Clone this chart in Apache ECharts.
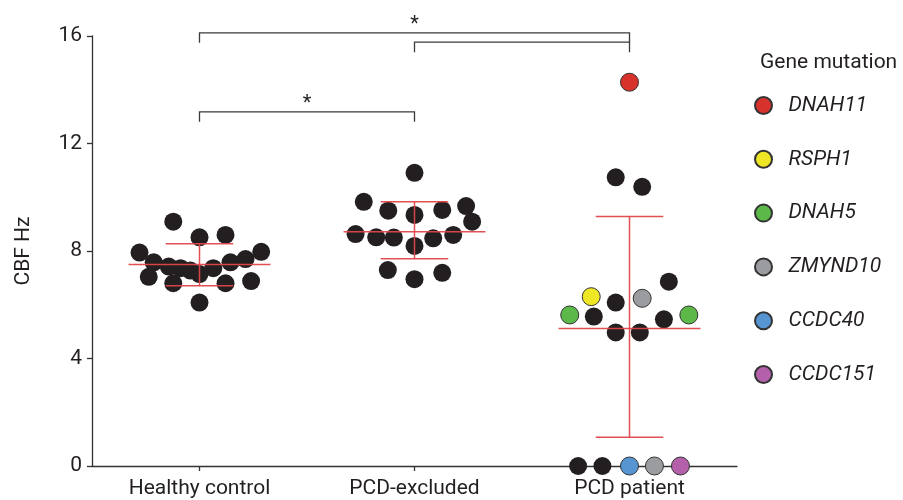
<!DOCTYPE html>
<html>
<head>
<meta charset="utf-8">
<script src="https://cdn.jsdelivr.net/npm/echarts@6/dist/echarts.min.js"></script>
<style>html,body{margin:0;padding:0;background:#fff}#c{width:903px;height:500px}</style>
</head>
<body>
<div id="c"></div>
<script>
// ---- data ----
var categories = ['Healthy control', 'PCD-excluded', 'PCD patient'];
var yTicks = [0, 4, 8, 12, 16];

// group position (1,2,3) + jitter offset within the group
var healthyValues  = [9.09, 8.51, 8.60, 7.94, 7.97, 7.58, 7.42, 7.36, 7.27, 7.14, 7.36, 7.58, 7.70, 7.04, 6.80, 6.80, 6.88, 6.08];
var healthyOffsets = [-0.122, 0, 0.121, -0.279, 0.287, -0.213, -0.143, -0.088, -0.042, 0, 0.064, 0.144, 0.214, -0.236, -0.122, 0.121, 0.240, 0];

var excludedValues  = [10.91, 9.83, 9.50, 9.34, 9.53, 9.67, 9.09, 8.63, 8.51, 8.50, 8.19, 8.47, 8.60, 7.29, 6.95, 7.19];
var excludedOffsets = [0, -0.236, -0.122, 0, 0.129, 0.240, 0.268, -0.274, -0.178, -0.096, 0, 0.087, 0.180, -0.124, 0, 0.129];

var patientBlackValues  = [10.74, 10.39, 6.86, 6.08, 5.56, 5.46, 4.97, 4.97, 0, 0];
var patientBlackOffsets = [-0.064, 0.059, 0.183, -0.064, -0.166, 0.160, -0.064, 0.048, -0.239, -0.126];

var genes = ['DNAH11', 'RSPH1', 'DNAH5', 'ZMYND10', 'CCDC40', 'CCDC151'];
var geneValues  = [[14.28], [6.30], [5.62, 5.62], [6.24, 0], [0], [0]];
var geneOffsets = [[0], [-0.178], [-0.278, 0.276], [0.059, 0.116], [0], [0.237]];

var means   = [7.50, 8.72, 5.12];
var sdUpper = [8.27, 9.83, 9.28];
var sdLower = [6.71, 7.71, 1.07];

// significance brackets: [from group, to group, level (CBF Hz), label]
var bracketFrom  = [1, 2, 1];
var bracketTo    = [3, 3, 2];
var bracketLevel = [16.12, 15.77, 13.18];
var bracketLabel = ['*', '', '*'];

// ---- styles ----
var geneColors = ['#d8322c', '#efe626', '#5cb848', '#9b9c9f', '#5795d2', '#b460aa'];
var dotColor = '#231f20';
var textColor = '#231f20';
var fontFamily = 'Roboto, "DejaVu Sans", sans-serif';
var fs = 21;

function pts(group, vals, offs) {
  return vals.map(function (v, i) { return [group + offs[i], v]; });
}

var series = [];
series.push({
  type: 'scatter', name: 'black', xAxisIndex: 1, yAxisIndex: 0,
  symbolSize: 18, itemStyle: { color: dotColor, opacity: 1 },
  data: pts(1, healthyValues, healthyOffsets)
    .concat(pts(2, excludedValues, excludedOffsets))
    .concat(pts(3, patientBlackValues, patientBlackOffsets)),
  z: 2, silent: true
});
genes.forEach(function (g, gi) {
  series.push({
    type: 'scatter', name: g, xAxisIndex: 1, yAxisIndex: 0,
    symbolSize: 18,
    itemStyle: { color: geneColors[gi], borderColor: '#333', borderWidth: 1, opacity: 1 },
    data: pts(3, geneValues[gi], geneOffsets[gi]),
    z: 3, silent: true
  });
});

// error bars (mean +/- SD)
series.push({
  type: 'custom', name: 'errbars', xAxisIndex: 1, yAxisIndex: 0, z: 5, silent: true,
  encode: { x: 0, y: 1 },
  data: categories.map(function (c, i) { return [i + 1, means[i], sdLower[i], sdUpper[i]]; }),
  renderItem: function (params, api) {
    var x = api.value(0), m = api.value(1), lo = api.value(2), hi = api.value(3);
    var mL = api.coord([x - 0.33, m]), mR = api.coord([x + 0.33, m]);
    var top = api.coord([x, hi]), bot = api.coord([x, lo]);
    var cw = 0.157 * (api.coord([1, 0])[0] - api.coord([0, 0])[0]);
    var st = { stroke: '#e2474b', lineWidth: 1.5, opacity: 0.95 };
    return { type: 'group', children: [
      { type: 'line', shape: { x1: mL[0], y1: mL[1], x2: mR[0], y2: mR[1] }, style: st },
      { type: 'line', shape: { x1: top[0], y1: top[1], x2: bot[0], y2: bot[1] }, style: st },
      { type: 'line', shape: { x1: top[0] - cw, y1: top[1], x2: top[0] + cw, y2: top[1] }, style: st },
      { type: 'line', shape: { x1: bot[0] - cw, y1: bot[1], x2: bot[0] + cw, y2: bot[1] }, style: st }
    ]};
  }
});

// significance brackets
series.push({
  type: 'custom', name: 'brackets', xAxisIndex: 1, yAxisIndex: 0, z: 6, silent: true, clip: false,
  encode: { x: 0, y: 2 },
  data: bracketFrom.map(function (f, i) { return [f, bracketTo[i], bracketLevel[i], i]; }),
  renderItem: function (params, api) {
    var a = api.coord([api.value(0), api.value(2)]);
    var b = api.coord([api.value(1), api.value(2)]);
    var lab = bracketLabel[api.value(3)];
    var st = { stroke: '#3a3a3a', lineWidth: 1.3, fill: null };
    var ch = [{ type: 'polyline', shape: { points: [[a[0], a[1] + 10], [a[0], a[1]], [b[0], b[1]], [b[0], b[1] + 10]] }, style: st }];
    if (lab) {
      ch.push({ type: 'text', x: (a[0] + b[0]) / 2, y: a[1] - 8,
        style: { text: lab, fill: textColor, font: '20px ' + fontFamily, align: 'center', verticalAlign: 'middle' } });
    }
    return { type: 'group', children: ch };
  }
});

var chart = echarts.init(document.getElementById('c'), null, { renderer: 'canvas' });
chart.setOption({
  animation: false,
  backgroundColor: '#ffffff',
  title: {
    text: 'Gene mutation', left: 755, top: 47,
    textStyle: { fontSize: fs, fontWeight: 'normal', color: textColor, fontFamily: fontFamily }
  },
  legend: {
    data: genes, orient: 'vertical', left: 749, top: 90,
    itemWidth: 40, itemHeight: 17, itemGap: 32.8, icon: 'circle',
    selectedMode: false,
    textStyle: { fontSize: fs, fontStyle: 'italic', color: textColor, fontFamily: fontFamily, lineHeight: 17 }
  },
  grid: { left: 92, right: 166, top: 36, bottom: 34, containLabel: false },
  xAxis: [
    {
      type: 'category', data: categories, boundaryGap: true,
      axisLine: { show: true, lineStyle: { color: '#333', width: 1.3 } },
      axisTick: { show: true, alignWithLabel: true, length: 5, lineStyle: { color: '#333', width: 1.3 } },
      axisLabel: { fontSize: fs, color: textColor, fontFamily: fontFamily, margin: 12 },
      splitLine: { show: false }
    },
    { type: 'value', min: 0.5, max: 3.5, show: false, splitLine: { show: false } }
  ],
  yAxis: {
    type: 'value', min: yTicks[0], max: yTicks[yTicks.length - 1], interval: yTicks[1] - yTicks[0],
    name: 'CBF Hz', nameLocation: 'middle', nameGap: 58,
    nameTextStyle: { fontSize: fs, color: textColor, fontFamily: fontFamily },
    axisLine: { show: true, lineStyle: { color: '#333', width: 1.3 } },
    axisTick: { show: true, length: 5, lineStyle: { color: '#333', width: 1.3 } },
    axisLabel: { fontSize: fs, color: textColor, fontFamily: fontFamily, margin: 10 },
    splitLine: { show: false }
  },
  series: series
});
</script>
</body>
</html>
